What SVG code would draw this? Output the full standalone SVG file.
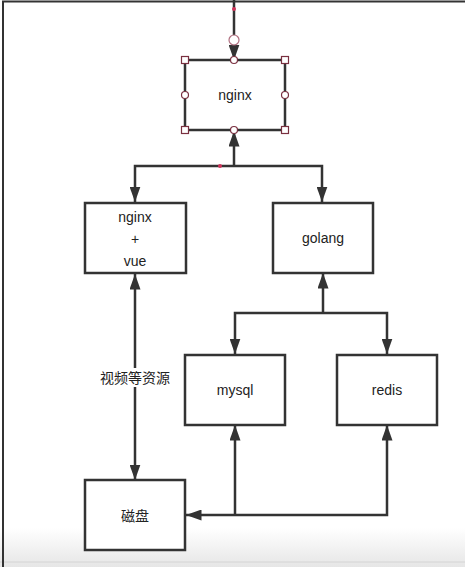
<svg xmlns="http://www.w3.org/2000/svg" width="465" height="567" viewBox="0 0 465 567">
<style>
.box{fill:#fff;stroke:#333;stroke-width:2.5}
.ln{fill:none;stroke:#333;stroke-width:2.5}
.t{font-family:"Liberation Sans","Noto Sans CJK SC",sans-serif;font-size:14px;fill:#222;text-anchor:middle}
.h{fill:#fff;stroke:#7a3040;stroke-width:1.2}
</style>
<defs>
<marker id="ah" viewBox="0 0 10 10" refX="10" refY="5" markerWidth="6.2" markerHeight="4.4" markerUnits="strokeWidth" orient="auto-start-reverse" preserveAspectRatio="none">
<path d="M0,0 L10,5 L0,10 z" fill="#333"/>
</marker>
<linearGradient id="bg" x1="0" y1="0" x2="0" y2="1">
<stop offset="0" stop-color="#fff"/>
<stop offset="1" stop-color="#e6e6e6"/>
</linearGradient>
</defs>
<rect width="465" height="567" fill="#fff"/>
<rect x="0" y="528" width="465" height="39" fill="url(#bg)"/>
<line x1="0" y1="562" x2="465" y2="562" stroke="#d4d4d4" stroke-width="1"/>
<path d="M3,567 V1.5 H465" fill="none" stroke="#333" stroke-width="2"/>
<g id="connectors">
<path class="ln" d="M234,0 V60" marker-end="url(#ah)"/>
<path class="ln" d="M234,166 V131" marker-end="url(#ah)"/>
<path class="ln" d="M135,202 V166 H322 V202" marker-start="url(#ah)" marker-end="url(#ah)"/>
<path class="ln" d="M323,313 V273" marker-end="url(#ah)"/>
<path class="ln" d="M235,354 V313 H387 V354" marker-start="url(#ah)" marker-end="url(#ah)"/>
<path class="ln" d="M135,274 V480" marker-start="url(#ah)" marker-end="url(#ah)"/>
<path class="ln" d="M235,425 V515" marker-start="url(#ah)"/>
<path class="ln" d="M387,425 V515 H186" marker-start="url(#ah)" marker-end="url(#ah)"/>
<rect x="96" y="368" width="78" height="19" fill="#fff"/>
<text class="t" x="135" y="383">视频等资源</text>
<circle cx="234" cy="9" r="2" fill="#d0345a"/>
<circle cx="220" cy="166" r="2" fill="#d0345a"/>
<circle cx="234" cy="40" r="5" fill="#fff" stroke="#b07080" stroke-width="1.2"/>
</g>
<g id="nginx">
<rect class="box" x="185" y="60" width="100" height="70"/>
<text class="t" x="235" y="100">nginx</text>
<rect class="h" x="181.5" y="56.5" width="7" height="7"/>
<rect class="h" x="281.5" y="56.5" width="7" height="7"/>
<rect class="h" x="181.5" y="126.5" width="7" height="7"/>
<rect class="h" x="281.5" y="126.5" width="7" height="7"/>
<circle class="h" cx="234" cy="60" r="3.5"/>
<circle class="h" cx="234" cy="130" r="3.5"/>
<circle class="h" cx="185" cy="95" r="3.5"/>
<circle class="h" cx="285" cy="95" r="3.5"/>
</g>
<g id="nginx-vue">
<rect class="box" x="85" y="203" width="101" height="70"/>
<text class="t" x="135" y="222">nginx</text>
<text class="t" x="135" y="244">+</text>
<text class="t" x="135" y="266">vue</text>
</g>
<g id="golang">
<rect class="box" x="273" y="203" width="100" height="70"/>
<text class="t" x="323" y="243">golang</text>
</g>
<g id="mysql">
<rect class="box" x="185" y="355" width="100" height="70"/>
<text class="t" x="235" y="395">mysql</text>
</g>
<g id="redis">
<rect class="box" x="337" y="355" width="100" height="70"/>
<text class="t" x="387" y="395">redis</text>
</g>
<g id="disk">
<rect class="box" x="85" y="480" width="100" height="70"/>
<text class="t" x="135" y="521">磁盘</text>
</g>
</svg>
